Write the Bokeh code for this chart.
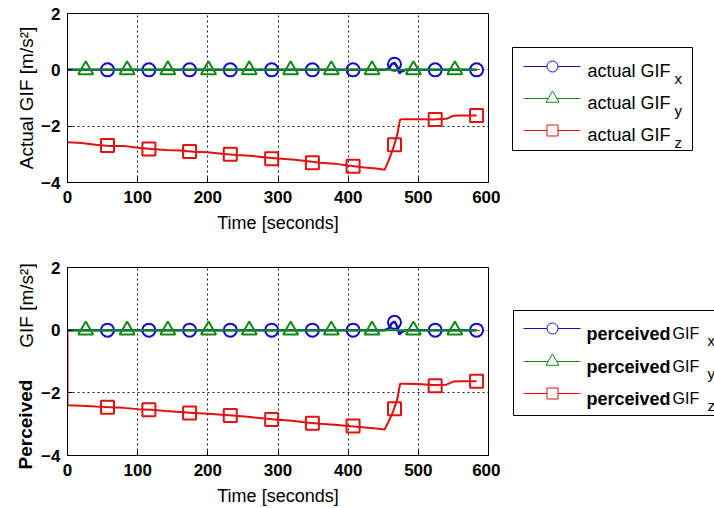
import math
from bokeh.plotting import figure
from bokeh.models import Range1d, FixedTicker
from bokeh.layouts import row, column
from bokeh.embed import file_html
from bokeh.resources import INLINE
from bokeh.core.properties import value

# ---------------- data ----------------
x_ticks = [0, 100, 200, 300, 400, 500, 600]
y_ticks = [-4, -2, 0, 2]

# GIF x component (both panels)
time_x = [0, 440, 452, 458, 462, 466, 470, 473, 476, 482, 583]
actual_x = [0.0, 0.0, 0.0, 0.05, 0.2, 0.25, 0.1, -0.12, -0.05, 0.0, 0.0]
perceived_x = [0.0, 0.0, 0.0, 0.06, 0.22, 0.27, 0.12, -0.14, -0.06, 0.0, 0.0]

# GIF y component
time_y = [0, 300, 583]
actual_y = [0.0, 0.0, 0.0]
perceived_y = [0.0, 0.0, 0.0]

# GIF z component
time_z = [0, 20, 40, 60, 80, 100, 120, 140, 160, 180, 200, 220, 240, 260, 280,
          300, 320, 340, 360, 380, 400, 420, 440, 452, 458, 464, 470, 474, 480,
          500, 520, 540, 550, 560, 583]
actual_z = [-2.57, -2.60, -2.66, -2.70, -2.70, -2.77, -2.81, -2.85, -2.86, -2.91,
            -2.93, -2.98, -3.02, -3.05, -3.10, -3.15, -3.18, -3.24, -3.30, -3.33,
            -3.40, -3.46, -3.50, -3.55, -3.20, -2.80, -2.30, -1.76, -1.75, -1.75,
            -1.76, -1.74, -1.63, -1.62, -1.62]
time_zp = [0, 0, 20, 40, 60, 80, 100, 120, 140, 160, 180, 200, 220, 240, 260, 280,
           300, 320, 340, 360, 380, 400, 420, 440, 452, 458, 464, 470, 474, 480,
           500, 520, 540, 550, 560, 583]
perceived_z = [0.0, -2.40, -2.41, -2.44, -2.46, -2.48, -2.52, -2.54, -2.58, -2.61,
               -2.64, -2.67, -2.70, -2.73, -2.77, -2.82, -2.86, -2.89, -2.95, -2.99,
               -3.02, -3.06, -3.10, -3.14, -3.17, -2.90, -2.60, -2.20, -1.71, -1.71,
               -1.72, -1.75, -1.74, -1.64, -1.63, -1.63]

# marker samples
mark_t_xz = [57, 116, 174, 232, 291, 349, 407, 466, 524, 583]
mark_t_y = [26, 85, 143, 201, 259, 318, 376, 434, 493, 552]
actual_x_marks = [0.0, 0.0, 0.0, 0.0, 0.0, 0.0, 0.0, 0.2, 0.0, 0.0]
actual_y_marks = [0.0, 0.0, 0.0, 0.0, 0.0, 0.0, 0.0, 0.0, 0.0, 0.0]
actual_z_marks = [-2.69, -2.81, -2.90, -3.00, -3.16, -3.30, -3.42, -2.66, -1.76, -1.62]
perceived_x_marks = [0.0, 0.0, 0.0, 0.0, 0.0, 0.0, 0.0, 0.25, 0.0, 0.0]
perceived_y_marks = [0.0, 0.0, 0.0, 0.0, 0.0, 0.0, 0.0, 0.0, 0.0, 0.0]
perceived_z_marks = [-2.46, -2.54, -2.64, -2.72, -2.85, -2.97, -3.06, -2.51, -1.77, -1.63]

BLUE = "#1010c8"
GREEN = "#108a10"
RED = "#e31010"
FONT = "Liberation Sans"


def make_main(width, height, left, top, bottom, ylabel, xs, ys, zt, zs, xm, ym, zm):
    p = figure(width=width, height=height, x_range=Range1d(0, 600), y_range=Range1d(-4, 2),
               output_backend="svg", toolbar_location=None,
               min_border_left=left, min_border_right=12, min_border_top=top,
               min_border_bottom=bottom, background_fill_color="white",
               border_fill_color="white")
    p.outline_line_color = "black"
    p.outline_line_width = 1
    p.outline_line_alpha = 1
    p.xaxis.ticker = FixedTicker(ticks=x_ticks)
    p.yaxis.ticker = FixedTicker(ticks=y_ticks)
    for ax in (p.xaxis[0], p.yaxis[0]):
        ax.axis_line_color = "black"
        ax.major_tick_in = 5
        ax.major_tick_out = 0
        ax.minor_tick_line_color = None
        ax.major_tick_line_color = "black"
        ax.major_label_text_font = FONT
        ax.major_label_text_font_size = "17px"
        ax.major_label_text_font_style = "bold"
        ax.major_label_text_color = "black"
        ax.axis_label_text_font = FONT
        ax.axis_label_text_font_size = "18px"
        ax.axis_label_text_font_style = "normal"
        ax.axis_label_text_color = "black"
    p.xaxis.axis_label = "Time [seconds]"
    p.xaxis.major_label_standoff = 8
    p.xaxis.axis_label_standoff = 7
    if ylabel:
        p.yaxis.axis_label = ylabel
        p.yaxis.axis_label_text_font_size = "19px"
    p.yaxis.major_label_standoff = 7
    p.yaxis.axis_label_standoff = 1
    for g in (p.xgrid[0], p.ygrid[0]):
        g.grid_line_color = "black"
        g.grid_line_dash = "2 3"
        g.grid_line_width = 1
        g.grid_line_alpha = 0.9
    p.line(time_x, xs, line_color=BLUE, line_width=2.5)
    p.scatter(mark_t_xz, xm, marker="circle", size=13, line_color=BLUE,
              fill_color=None, line_width=2)
    p.line(time_y, ys, line_color=GREEN, line_width=2)
    p.scatter(mark_t_y, ym, marker="triangle", size=15, line_color=GREEN,
              fill_color=None, line_width=2)
    p.line(zt, zs, line_color=RED, line_width=2)
    p.scatter(mark_t_xz, zm, marker="square", size=13, line_color=RED,
              fill_color=None, line_width=2)
    return p


def blank(width, height, x0, y_frame_top, y_frame_bottom, top, bottom):
    # frame is aligned with the neighbouring plot frame; ranges are in page pixels
    f = figure(width=width, height=height, x_range=Range1d(x0, x0 + width),
               y_range=Range1d(y_frame_bottom, y_frame_top), output_backend="svg",
               toolbar_location=None, min_border=0, min_border_left=0,
               min_border_right=0, min_border_top=top, min_border_bottom=bottom,
               outline_line_color=None)
    f.axis.visible = False
    f.grid.visible = False
    return f


def make_legend(height, ft, fb, top, bottom, box, rows, word, bold, gif_x, sub_x):
    lg = blank(214, height, 500, ft, fb, top, bottom)
    l, r, t, b = box
    lg.quad(left=[l], right=[r], top=[t], bottom=[b], fill_color="white",
            line_color="black", line_width=1)
    colors = [BLUE, GREEN, RED]
    markers = ["circle", "triangle", "square"]
    sizes = [11, 13, 11]
    subs = ["x", "y", "z"]
    for (ly, c, m, s, sub) in zip(rows, colors, markers, sizes, subs):
        lg.line([523, 580], [ly, ly], line_color=c, line_width=1)
        lg.scatter([552], [ly], marker=m, size=s, line_color=c, fill_color="white",
                   line_width=1)
        if bold:
            lg.text([586], [ly + 5], text=[word], text_font=value(FONT),
                    text_font_size="18px", text_font_style="bold",
                    text_baseline="alphabetic", text_color="black")
            lg.text([gif_x], [ly + 5], text=["GIF"], text_font=value(FONT),
                    text_font_size="16px", text_baseline="alphabetic",
                    text_color="black")
        else:
            lg.text([587], [ly + 4], text=[word + " GIF"], text_font=value(FONT),
                    text_font_size="18px", text_baseline="alphabetic",
                    text_color="black")
        lg.text([sub_x], [ly + 12], text=[sub], text_font=value(FONT),
                text_font_size="15px", text_baseline="alphabetic", text_color="black")
    return lg


p1 = make_main(500, 240, 67, 13, 58, "Actual GIF [m/s²]", actual_x, actual_y, time_z,
               actual_z, actual_x_marks, actual_y_marks, actual_z_marks)
p2 = make_main(463, 268, 30, 27, 53, "", perceived_x, perceived_y, time_zp, perceived_z,
               perceived_x_marks, perceived_y_marks, perceived_z_marks)

lab2 = blank(37, 268, 0, 267, 455, 27, 53)
lab2.text([25], [424], text=["Perceived"], angle=math.pi / 2, text_align="center",
          text_baseline="middle", text_font=value(FONT), text_font_size="19px",
          text_font_style="bold", text_color="black", level="overlay")
lab2.text([26], [305], text=["GIF [m/s²]"], angle=math.pi / 2, text_align="center",
          text_baseline="middle", text_font=value(FONT), text_font_size="19px",
          text_color="black", level="overlay")

lg1 = make_legend(240, 13, 182, 13, 58, (512, 692, 47, 150), [66, 98, 130], "actual",
                  False, 0, 674)
lg2 = make_legend(268, 267, 455, 27, 53, (513, 720, 310, 415), [328, 361, 393],
                  "perceived", True, 672, 707)

layout = column(row(p1, lg1, spacing=0), row(lab2, p2, lg2, spacing=0), spacing=0)
open("out.html", "w").write(file_html(layout, INLINE))
